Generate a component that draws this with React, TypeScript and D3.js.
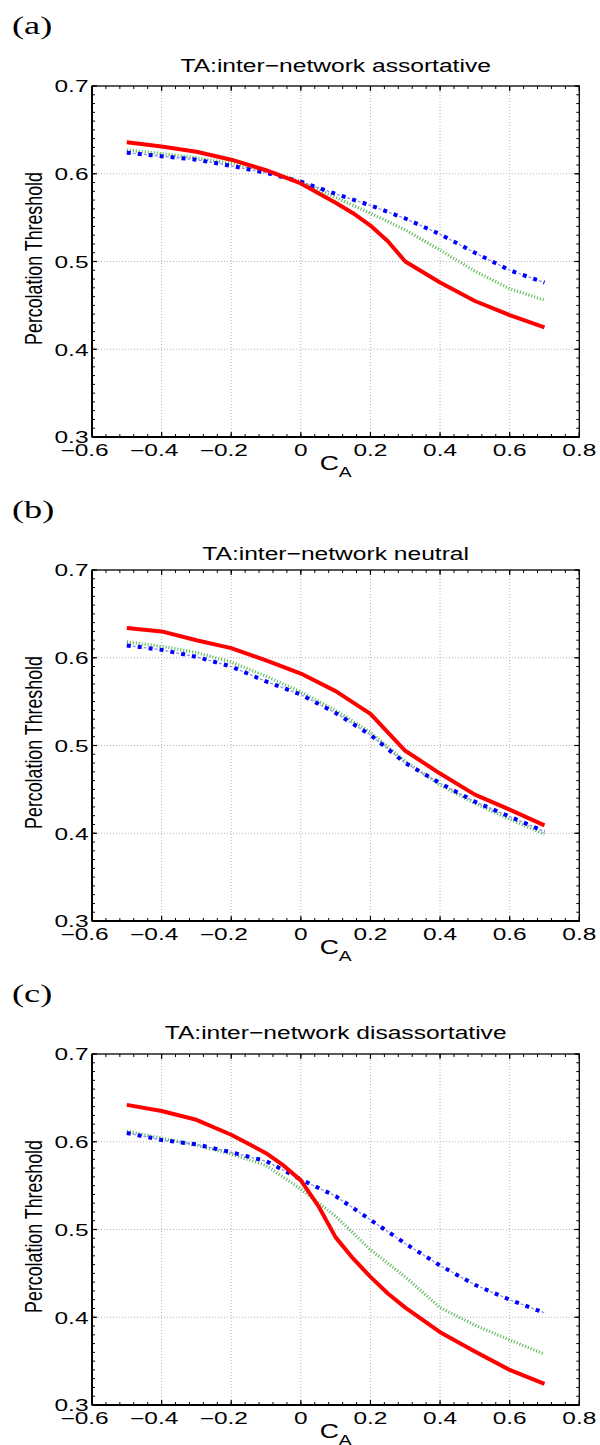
import React from 'react';
import * as d3 from 'd3';

// ---------- data ----------
const CA = [-0.5, -0.4, -0.3, -0.2, -0.1, 0, 0.1, 0.2, 0.3, 0.4, 0.5, 0.6, 0.7];

const X_TICKS = [-0.6, -0.4, -0.2, 0, 0.2, 0.4, 0.6, 0.8];
const X_TICK_LABELS = ['−0.6', '−0.4', '−0.2', '0', '0.2', '0.4', '0.6', '0.8'];
const Y_TICKS = [0.3, 0.4, 0.5, 0.6, 0.7];
const Y_TICK_LABELS = ['0.3', '0.4', '0.5', '0.6', '0.7'];

const PANEL_LABELS = ['(a)', '(b)', '(c)'];
const TITLES = [
  'TA:inter−network assortative',
  'TA:inter−network neutral',
  'TA:inter−network disassortative',
];
const Y_LABEL = 'Percolation Threshold';

// panel (a)
const A_RED_CA = [-0.5, -0.4, -0.3, -0.2, -0.1, 0, 0.1, 0.15, 0.2, 0.25, 0.3, 0.4, 0.5, 0.6, 0.7];
const A_RED = [0.636, 0.631, 0.625, 0.616, 0.604, 0.589, 0.567, 0.555, 0.541, 0.523, 0.5, 0.476, 0.455, 0.439, 0.425];
const A_BLUE = [0.624, 0.62, 0.616, 0.609, 0.601, 0.591, 0.577, 0.564, 0.549, 0.531, 0.51, 0.49, 0.476];
const A_GREEN = [0.627, 0.623, 0.618, 0.612, 0.604, 0.591, 0.573, 0.555, 0.536, 0.513, 0.489, 0.469, 0.456];

// panel (b)
const B_RED = [0.634, 0.63, 0.62, 0.611, 0.597, 0.582, 0.562, 0.536, 0.494, 0.468, 0.444, 0.427, 0.409];
const B_BLUE = [0.614, 0.609, 0.601, 0.59, 0.573, 0.558, 0.537, 0.512, 0.48, 0.457, 0.436, 0.419, 0.402];
const B_GREEN = [0.618, 0.613, 0.606, 0.595, 0.579, 0.561, 0.54, 0.515, 0.482, 0.455, 0.434, 0.416, 0.399];

// panel (c)
const C_RED_CA = [-0.5, -0.4, -0.3, -0.2, -0.1, -0.05, 0, 0.05, 0.1, 0.15, 0.2, 0.25, 0.3, 0.4, 0.5, 0.6, 0.7];
const C_RED = [0.642, 0.635, 0.625, 0.608, 0.587, 0.573, 0.556, 0.527, 0.491, 0.467, 0.446, 0.427, 0.411, 0.383, 0.361, 0.34, 0.324];
const C_BLUE = [0.61, 0.602, 0.597, 0.588, 0.578, 0.557, 0.538, 0.511, 0.484, 0.459, 0.437, 0.42, 0.405];
const C_GREEN = [0.612, 0.604, 0.596, 0.586, 0.573, 0.546, 0.515, 0.477, 0.446, 0.411, 0.391, 0.374, 0.358];

type Pt = [number, number];
const zip = (xs: number[], ys: number[]): Pt[] => xs.map((x, i) => [x, ys[i]] as Pt);

const PANELS = [
  { red: zip(A_RED_CA, A_RED), blue: zip(CA, A_BLUE), green: zip(CA, A_GREEN) },
  { red: zip(CA, B_RED), blue: zip(CA, B_BLUE), green: zip(CA, B_GREEN) },
  { red: zip(C_RED_CA, C_RED), blue: zip(CA, C_BLUE), green: zip(CA, C_GREEN) },
];

// ---------- layout ----------
const W = 600;
const H = 1445;
const LEFT = 92;
const RIGHT = 579.3;
const PLOT_H = 351;
const TOPS = [86, 570, 1054];
const TITLE_GAP = [14.3, 10, 14.7];
const FONT = '"Liberation Sans", Arial, Helvetica, sans-serif';
const SERIF = '"Liberation Serif", "Times New Roman", serif';

function Panel({ idx }: { idx: number }) {
  const top = TOPS[idx];
  const bottom = top + PLOT_H;
  const x = d3.scaleLinear().domain([-0.6, 0.8]).range([LEFT, RIGHT]);
  const y = d3.scaleLinear().domain([0.3, 0.7]).range([bottom, top]);
  const line = d3
    .line<Pt>()
    .x((d) => x(d[0]))
    .y((d) => y(d[1]));
  const p = PANELS[idx];

  const xMinor = d3.range(0, 36).map((i) => -0.6 + i * 0.04);
  const yMinor = d3.range(0, 41).map((i) => 0.3 + i * 0.01);

  const cx = (LEFT + RIGHT) / 2;

  return (
    <g>
      {/* panel label */}
      <text
        transform={`translate(12, ${top - 52}) scale(1.45,1)`}
        fontFamily={SERIF}
        fontSize={25}
        fill="#000"
      >
        {PANEL_LABELS[idx]}
      </text>
      {/* title */}
      <text
        transform={`translate(${cx}, ${top - TITLE_GAP[idx]}) scale(1.33,1)`}
        textAnchor="middle"
        fontFamily={FONT}
        fontSize={18.5}
        fill="#000"
      >
        {TITLES[idx]}
      </text>
      {/* grid */}
      {X_TICKS.slice(1, -1).map((t) => (
        <line
          key={'gx' + t}
          x1={x(t)}
          x2={x(t)}
          y1={top}
          y2={bottom}
          stroke="#b4b4b4"
          strokeWidth={1}
          strokeDasharray="1 2"
        />
      ))}
      {Y_TICKS.slice(1, -1).map((t) => (
        <line
          key={'gy' + t}
          x1={LEFT}
          x2={RIGHT}
          y1={y(t)}
          y2={y(t)}
          stroke="#b4b4b4"
          strokeWidth={1}
          strokeDasharray="1 2"
        />
      ))}
      {/* minor ticks */}
      {xMinor.map((t, i) => (
        <g key={'xm' + i}>
          <line x1={x(t)} x2={x(t)} y1={bottom} y2={bottom - 3} stroke="#000" strokeWidth={1} />
          <line x1={x(t)} x2={x(t)} y1={top} y2={top + 3} stroke="#000" strokeWidth={1} />
        </g>
      ))}
      {yMinor.map((t, i) => (
        <g key={'ym' + i}>
          <line x1={LEFT} x2={LEFT + 3} y1={y(t)} y2={y(t)} stroke="#000" strokeWidth={1} />
          <line x1={RIGHT} x2={RIGHT - 3} y1={y(t)} y2={y(t)} stroke="#000" strokeWidth={1} />
        </g>
      ))}
      {/* major ticks */}
      {X_TICKS.map((t) => (
        <g key={'xM' + t}>
          <line x1={x(t)} x2={x(t)} y1={bottom} y2={bottom - 5} stroke="#000" strokeWidth={1.2} />
          <line x1={x(t)} x2={x(t)} y1={top} y2={top + 5} stroke="#000" strokeWidth={1.2} />
        </g>
      ))}
      {Y_TICKS.map((t) => (
        <g key={'yM' + t}>
          <line x1={LEFT} x2={LEFT + 5} y1={y(t)} y2={y(t)} stroke="#000" strokeWidth={1.2} />
          <line x1={RIGHT} x2={RIGHT - 5} y1={y(t)} y2={y(t)} stroke="#000" strokeWidth={1.2} />
        </g>
      ))}
      {/* series */}
      <path d={line(p.green) || ''} fill="none" stroke="#5cb85c" strokeWidth={3.2} strokeDasharray="1.1 1.9" />
      <path
        d={line(p.blue) || ''}
        fill="none"
        stroke="#8c8cff"
        strokeWidth={1.3}
        strokeDasharray="3 8"
        strokeDashoffset={5}
      />
      <path d={line(p.blue) || ''} fill="none" stroke="#0000ff" strokeWidth={4} strokeDasharray="4 7" />
      <path d={line(p.red) || ''} fill="none" stroke="#ff0000" strokeWidth={4} strokeLinejoin="round" />
      {/* frame */}
      <rect x={LEFT} y={top} width={RIGHT - LEFT} height={PLOT_H} fill="none" stroke="#000" strokeWidth={1.3} />
      <line x1={LEFT} x2={LEFT} y1={top} y2={bottom} stroke="#000" strokeWidth={2} />
      <line x1={LEFT} x2={RIGHT} y1={bottom} y2={bottom} stroke="#000" strokeWidth={2} />
      {/* tick labels */}
      {Y_TICKS.map((t, i) => (
        <text
          key={'yl' + t}
          transform={`translate(88.5, ${y(t) + 6.3}) scale(1.5,1)`}
          textAnchor="end"
          fontFamily={FONT}
          fontSize={16.3}
          fill="#000"
        >
          {Y_TICK_LABELS[i]}
        </text>
      ))}
      {X_TICKS.map((t, i) => (
        <text
          key={'xl' + t}
          transform={`translate(${t < 0 ? x(t) + 16.7 : x(t)}, ${bottom + 19}) scale(1.5,1)`}
          textAnchor={t < 0 ? 'end' : 'middle'}
          fontFamily={FONT}
          fontSize={16.3}
          fill="#000"
        >
          {X_TICK_LABELS[i]}
        </text>
      ))}
      {/* axis labels */}
      <text
        transform={`translate(${cx}, ${bottom + 33}) scale(1.33,1)`}
        textAnchor="middle"
        fontFamily={FONT}
        fontSize={20}
        fill="#000"
      >
        C
        <tspan fontSize={14.5} dy={7}>
          A
        </tspan>
      </text>
      <g transform={`translate(41.5, ${top + 172.5}) scale(1.33,1) rotate(-90)`}>
        <text textAnchor="middle" fontFamily={FONT} fontSize={17.8} fill="#000">
          {Y_LABEL}
        </text>
      </g>
    </g>
  );
}

export default function App() {
  return (
    <svg
      width={W}
      height={H}
      viewBox={`0 0 ${W} ${H}`}
      style={{ position: 'absolute', left: 0, top: 0, background: '#fff' }}
    >
      <rect x={0} y={0} width={W} height={H} fill="#fff" />
      {[0, 1, 2].map((i) => (
        <Panel key={i} idx={i} />
      ))}
    </svg>
  );
}
